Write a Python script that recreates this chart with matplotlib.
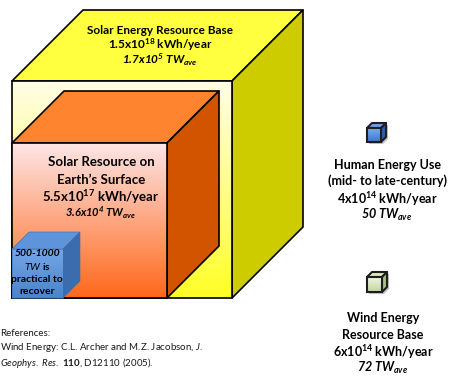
import matplotlib
matplotlib.use('Agg')
import matplotlib.pyplot as plt
from matplotlib.patches import Polygon, Rectangle, FancyBboxPatch
from matplotlib.colors import LinearSegmentedColormap
import numpy as np

plt.rcParams['font.family'] = ['Lato', 'DejaVu Sans']
plt.rcParams['mathtext.fontset'] = 'custom'
plt.rcParams['mathtext.rm'] = 'Lato'
plt.rcParams['mathtext.it'] = 'Lato:italic'
plt.rcParams['mathtext.bf'] = 'Lato:bold'
plt.rcParams['mathtext.default'] = 'regular'

# energy figures shown on the diagram
solar_base = ["Solar Energy Resource Base", "1.5x10$^{18}$ kWh/year", "1.7x10$^{5}$ TW$_{ave}$"]
solar_surface = ["Solar Resource on", "Earth\u2019s Surface", "5.5x10$^{17}$ kWh/year", "3.6x10$^{4}$ TW$_{ave}$"]
practical = ["500-1000", "TW is", "practical to", "recover"]
human_use = ["Human Energy Use", "(mid- to late-century)", "4x10$^{14}$ kWh/year", "50 TW$_{ave}$"]
wind_base = ["Wind Energy", "Resource Base", "6x10$^{14}$ kWh/year", "72 TW$_{ave}$"]
references = ["References:",
              "Wind Energy: C.L. Archer and M.Z. Jacobson, $\\mathit{J.}$",
              "$\\mathit{Geophys.\\ Res.}$ $\\mathbf{110}$, D12110 (2005)."]

fig = plt.figure(figsize=(4.49, 3.78), dpi=100)
ax = fig.add_axes([0, 0, 1, 1])
ax.set_xlim(0, 449)
ax.set_ylim(378, 0)
ax.axis('off')


def gradient_rect(x, y, w, h, c_top, c_bot, z):
    cmap = LinearSegmentedColormap.from_list('g', [c_top, c_bot])
    grad = np.linspace(0, 1, 256).reshape(-1, 1)
    ax.imshow(grad, cmap=cmap, extent=(x, x + w, y + h, y), aspect='auto',
              zorder=z, interpolation='bilinear')


def cube(x, y, w, h, d, front, top, side, z, lw=1.2, ec='black'):
    top_pts = [(x, y), (x + d, y - d), (x + w + d, y - d), (x + w, y)]
    side_pts = [(x + w, y), (x + w + d, y - d), (x + w + d, y + h - d), (x + w, y + h)]
    ax.add_patch(Polygon(top_pts, closed=True, fc=top, ec=ec, lw=lw, zorder=z, joinstyle='round'))
    ax.add_patch(Polygon(side_pts, closed=True, fc=side, ec=ec, lw=lw, zorder=z, joinstyle='round'))
    gradient_rect(x, y, w, h, front[0], front[1], z)
    ax.add_patch(Rectangle((x, y), w, h, fill=False, ec=ec, lw=lw, zorder=z + 0.5))


# big solar cube, surface cube and practical cube
cube(12, 81, 220, 217, 71, ('#fffde6', '#ffff26'), '#ffff40', '#cccc00', 1)
cube(12, 143, 155, 155, 52, ('#fde6e6', '#ff671a'), '#ff8430', '#d25300', 2)
cube(12, 249, 51, 49, 17, ('#74a6e6', '#4a84cc'), '#5e94da', '#3a6cae', 3, lw=0.4, ec='#3a6cae')


def icon(x, y, w, d, front, top, side):
    # shadow
    ax.add_patch(Polygon([(x + 2, y + 2), (x + d + 2, y - d + 2), (x + w + d + 2, y - d + 2),
                          (x + w + d + 2, y + w - d + 2), (x + w + 2, y + w + 2), (x + 2, y + w + 2)],
                         closed=True, fc='#9a9a9a', ec='none', zorder=4, alpha=0.6))
    cube(x, y, w, w, d, front, top, side, 5, lw=1.5, ec='#1e1e1e')


icon(367, 128, 14, 5, ('#7aaef0', '#3e74c8'), '#6ea0e6', '#2f5ea8')
icon(367, 277, 15, 5, ('#f1f6e2', '#c2d49c'), '#dce8bc', '#a9bd80')

bold = dict(fontweight='bold', ha='center', va='center', color='black')

for txt, yy in zip(solar_base, [30, 45, 60]):
    style = 'italic' if 'TW' in txt else 'normal'
    ax.text(160, yy, txt, fontsize=8.5, style=style, zorder=10, **bold)

for txt, yy in zip(solar_surface, [162, 180, 197, 213]):
    style = 'italic' if 'TW' in txt else 'normal'
    size = 8 if 'TW' in txt else 9.5
    ax.text(101, yy, txt, fontsize=size, style=style, zorder=10, **bold)

ax.text(37, 253, practical[0], fontsize=7.5, style='italic', zorder=10, **bold)
ax.text(37, 266, "$\\mathit{TW}$ is", fontsize=7.5, zorder=10,
        fontweight='bold', ha='center', va='center')
ax.text(37, 279, practical[2], fontsize=7.5, zorder=10, **bold)
ax.text(37, 292, practical[3], fontsize=7.5, zorder=10, **bold)

for txt, yy in zip(human_use, [165, 181, 199, 215]):
    style = 'italic' if 'TW' in txt else 'normal'
    ax.text(387, yy, txt, fontsize=9, style=style, zorder=10, **bold)

for txt, yy in zip(wind_base, [318, 335, 352, 368]):
    style = 'italic' if 'TW' in txt else 'normal'
    ax.text(383, yy, txt, fontsize=9, style=style, zorder=10, **bold)

for txt, yy in zip(references, [333, 348, 363]):
    ax.text(0, yy, txt, fontsize=7, ha='left', va='center', color='#1a1a1a')

fig.savefig('out.png', dpi=100)
